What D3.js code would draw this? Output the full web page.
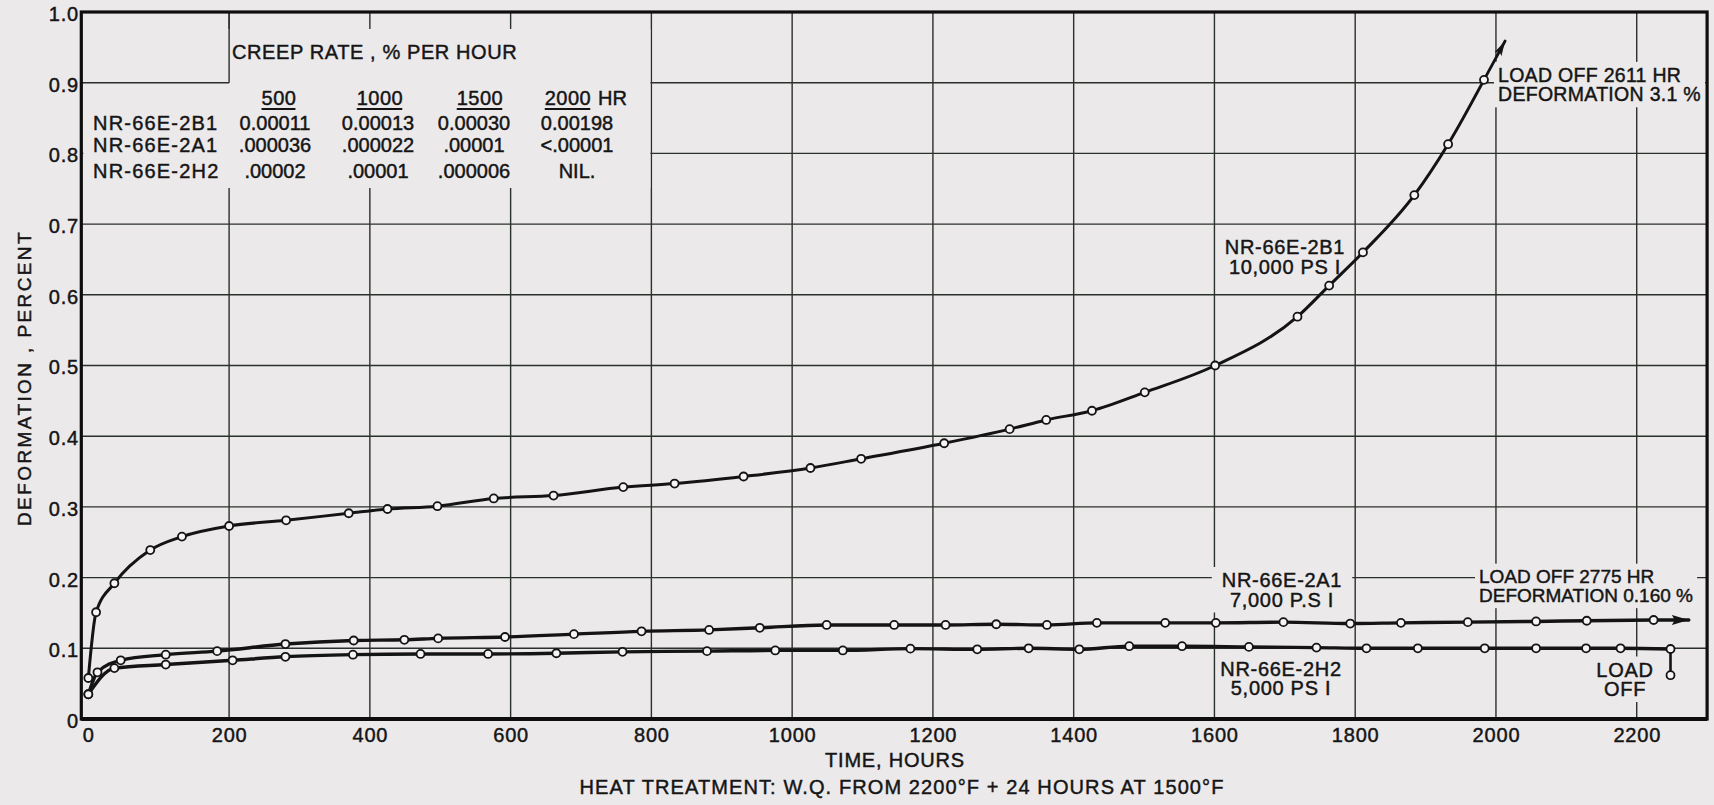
<!DOCTYPE html>
<html>
<head>
<meta charset="utf-8">
<script src="https://cdn.jsdelivr.net/npm/d3@7"></script>
<style>
  html, body { margin: 0; padding: 0; background: #ECE9EB; }
  svg { display: block; }
  text { font-family: "Liberation Sans", Arial, sans-serif; fill: #151515; stroke: #151515; stroke-width: 0.45px; }
</style>
</head>
<body>
<svg id="chart" width="1714" height="805"></svg>
<script>
// ---- Creep curves: deformation (%) vs time (hours) ----
// NR-66E-2B1, 10,000 psi
const hours2B1  = [0, 11, 37, 88, 133, 200, 281, 370, 425, 496, 576, 661, 760, 833, 931, 1026, 1098, 1216, 1309, 1361, 1426, 1501, 1601, 1718, 1763, 1811, 1884, 1932, 1983];
const deform2B1 = [0.058, 0.151, 0.192, 0.239, 0.258, 0.273, 0.281, 0.291, 0.297, 0.301, 0.312, 0.316, 0.328, 0.333, 0.343, 0.355, 0.368, 0.390, 0.410, 0.423, 0.436, 0.462, 0.500, 0.569, 0.613, 0.660, 0.741, 0.813, 0.904];
const trend2B1  = [2013, 0.959];          // curve continues off the chart (load off 2611 hr)

// NR-66E-2A1, 7,000 psi
const hours2A1  = [0, 13, 46, 110, 183, 280, 377, 449, 497, 592, 690, 786, 882, 954, 1049, 1145, 1218, 1290, 1362, 1433, 1530, 1602, 1698, 1793, 1865, 1960, 2057, 2129, 2224];
const deform2A1 = [0.035, 0.066, 0.083, 0.091, 0.096, 0.106, 0.111, 0.112, 0.114, 0.116, 0.120, 0.124, 0.126, 0.129, 0.133, 0.133, 0.133, 0.134, 0.133, 0.136, 0.136, 0.136, 0.137, 0.135, 0.136, 0.137, 0.138, 0.139, 0.140];
const trend2A1  = [2274, 0.140];          // continues to load off at 2775 hr

// NR-66E-2H2, 5,000 psi
const hours2H2  = [0, 37, 110, 205, 280, 376, 472, 568, 665, 759, 879, 976, 1072, 1168, 1263, 1336, 1408, 1479, 1554, 1649, 1745, 1816, 1889, 1984, 2057, 2128, 2177, 2248];
const deform2H2 = [0.035, 0.072, 0.077, 0.083, 0.088, 0.091, 0.092, 0.092, 0.093, 0.095, 0.096, 0.097, 0.097, 0.0995, 0.0986, 0.100, 0.0986, 0.103, 0.103, 0.102, 0.101, 0.100, 0.100, 0.100, 0.100, 0.100, 0.100, 0.099];
const loadOff2H2 = [2248, 0.062];         // recovery after load removed

// Axis ticks
const xTicks = [0, 200, 400, 600, 800, 1000, 1200, 1400, 1600, 1800, 2000, 2200];
const yTicks = [0, 0.1, 0.2, 0.3, 0.4, 0.5, 0.6, 0.7, 0.8, 0.9, 1.0];

// Creep-rate table (% per hour)
const rateHours = ["500", "1000", "1500", "2000"];
const rateSpecimens = ["NR-66E-2B1", "NR-66E-2A1", "NR-66E-2H2"];
const rate2B1 = ["0.00011", "0.00013", "0.00030", "0.00198"];
const rate2A1 = [".000036", ".000022", ".00001", "<.00001"];
const rate2H2 = [".00002", ".00001", ".000006", "NIL."];

// ---- drawing ----
const BG = "#ECE9EB", INK = "#141414", GRID = "#2a302a";
const FONT = '"Liberation Sans", Arial, sans-serif';
const svg = d3.select("#chart");
svg.append("rect").attr("width", 1714).attr("height", 805).attr("fill", BG);

const x = d3.scaleLinear().domain([-10, 2300]).range([81.3, 1707.1]);
const y = d3.scaleLinear().domain([0, 1]).range([719, 12]);

const defs = svg.append("defs");
defs.append("marker").attr("id", "arrowA")
  .attr("viewBox", "0 0 17 10").attr("refX", 17).attr("refY", 5)
  .attr("markerWidth", 17).attr("markerHeight", 10).attr("markerUnits", "userSpaceOnUse")
  .attr("orient", "auto")
  .append("path").attr("d", "M0,0 L17,5 L0,10 L3,5 Z").attr("fill", INK);
defs.append("marker").attr("id", "arrowB")
  .attr("viewBox", "0 0 15 8").attr("refX", 15).attr("refY", 4)
  .attr("markerWidth", 15).attr("markerHeight", 8).attr("markerUnits", "userSpaceOnUse")
  .attr("orient", "auto")
  .append("path").attr("d", "M0,0 L15,4 L0,8 L3,4 Z").attr("fill", INK);

// grid
const grid = svg.append("g").attr("stroke", GRID).attr("stroke-width", 1.4);
grid.selectAll(".vx").data(xTicks.filter(d => d > 0)).join("line")
  .attr("x1", d => x(d)).attr("x2", d => x(d)).attr("y1", y(1)).attr("y2", y(0));
grid.selectAll(".hy").data(yTicks.filter(d => d > 0 && d < 1)).join("line")
  .attr("x1", x(-10)).attr("x2", x(2300)).attr("y1", d => y(d)).attr("y2", d => y(d));

// blank panel for the creep-rate table, with its corner box
svg.append("rect")
  .attr("x", x(-10) + 2).attr("y", y(0.976))
  .attr("width", x(800) - 1 - (x(-10) + 2)).attr("height", y(0.751) - y(0.976))
  .attr("fill", BG);
const box = svg.append("g").attr("stroke", GRID).attr("stroke-width", 1.4);
box.append("line").attr("x1", x(-10)).attr("x2", x(200)).attr("y1", y(0.9)).attr("y2", y(0.9));
box.append("line").attr("x1", x(200)).attr("x2", x(200)).attr("y1", y(1)).attr("y2", y(0.9));

// axes
const xAxis = svg.append("g").attr("transform", "translate(0,728)")
  .call(d3.axisBottom(x).tickValues(xTicks).tickSize(0).tickPadding(0).tickFormat(d3.format("d")));
const yAxis = svg.append("g").attr("transform", "translate(79,2)")
  .call(d3.axisLeft(y).tickValues(yTicks).tickSize(0).tickPadding(0)
    .tickFormat(d => d === 0 ? "0" : d.toFixed(1)));
[xAxis, yAxis].forEach(a => {
  a.select(".domain").remove();
  a.selectAll("text").attr("font-size", 20).attr("fill", INK)
    .style("font-family", FONT).style("letter-spacing", "0.8px");
});

// annotation labels with paper-coloured backing that interrupts the grid
const labelLayer = svg.append("g");
function label(lines, px, py, anchor, pad, size, spacing) {
  const g = labelLayer.append("g");
  const t = g.append("text").attr("font-size", size || 20).attr("text-anchor", anchor || "start")
    .style("letter-spacing", (spacing == null ? 0.7 : spacing) + "px");
  lines.forEach((s, i) => {
    t.append("tspan").attr("x", px).attr("y", py + i * 19.5).attr("dy", "0.35em").text(s);
  });
  const b = t.node().getBBox();
  const p = pad == null ? 4 : pad;
  g.insert("rect", "text").attr("x", b.x - p).attr("y", b.y - 2).attr("width", b.width + 2 * p)
    .attr("height", b.height + 4).attr("fill", BG).attr("stroke", "none");
}
label(["LOAD OFF 2611 HR", "DEFORMATION 3.1 %"], 1498, 75, "start", 4, 19.5, 0.3);
label(["NR-66E-2B1", "10,000 PS I"], 1285, 247, "middle", 0);
label(["NR-66E-2A1", "7,000 P.S I"], 1282, 580, "middle", 10);
label(["LOAD OFF 2775 HR", "DEFORMATION 0.160 %"], 1479, 576, "start", 4, 19, 0);
label(["NR-66E-2H2", "5,000 PS I"], 1281, 668.5, "middle", 2);
label(["LOAD", "OFF"], 1625, 669.5, "middle", 5);

// curves
const line = d3.line().x(d => x(d[0])).y(d => y(d[1])).curve(d3.curveMonotoneX);
const s2B1 = hours2B1.map((h, i) => [h, deform2B1[i]]);
const s2A1 = hours2A1.map((h, i) => [h, deform2A1[i]]);
const s2H2 = hours2H2.map((h, i) => [h, deform2H2[i]]);

const curves = svg.append("g").attr("fill", "none").attr("stroke", INK)
  .attr("stroke-linejoin", "round").attr("stroke-linecap", "round");
curves.append("path").attr("d", line(s2B1)).attr("stroke-width", 3);
curves.append("path").attr("d", line(s2A1)).attr("stroke-width", 3.4);
curves.append("path").attr("d", line(s2H2)).attr("stroke-width", 3.4);

// continuation arrows and load-off drop
const seg = d3.line().x(d => x(d[0])).y(d => y(d[1]));
curves.append("path").attr("d", seg([s2B1[s2B1.length - 1], trend2B1]))
  .attr("stroke-width", 2.8).attr("marker-end", "url(#arrowB)");
curves.append("path").attr("d", seg([s2A1[s2A1.length - 1], trend2A1]))
  .attr("stroke-width", 3.4).attr("marker-end", "url(#arrowA)");
curves.append("path").attr("d", seg([s2H2[s2H2.length - 1], loadOff2H2]))
  .attr("stroke-width", 2.6);

// data points
const pts = svg.append("g").attr("fill", "#f6f4f5").attr("stroke", INK).attr("stroke-width", 1.8);
[s2B1, s2A1, s2H2, [loadOff2H2]].forEach(s => {
  pts.append("g").selectAll("circle").data(s).join("circle")
    .attr("cx", d => x(d[0])).attr("cy", d => y(d[1])).attr("r", 4);
});

// frame
const frame = svg.append("g").attr("stroke", "#0e0e0e").attr("fill", "none");
frame.append("rect").attr("x", x(-10)).attr("y", y(1)).attr("width", x(2300) - x(-10))
  .attr("height", y(0) - y(1)).attr("stroke-width", 3.2);
frame.append("line").attr("x1", x(-10)).attr("x2", x(2300)).attr("y1", y(0)).attr("y2", y(0))
  .attr("stroke-width", 4.2);

// creep-rate table
const tbl = svg.append("g").attr("font-size", 20);
tbl.append("text").attr("x", 232).attr("y", 52).attr("dy", "0.35em")
  .style("letter-spacing", "0.6px").text("CREEP RATE , % PER HOUR");
const colX = [275, 378, 474, 577];
const headX = [279, 380, 480, 568];
const rowY = [123.3, 145, 170.8];
rateHours.forEach((h, i) => {
  const t = tbl.append("text").attr("x", headX[i]).attr("y", 98.3).attr("dy", "0.35em")
    .attr("text-anchor", "middle").style("letter-spacing", "0.5px").text(h);
  const b = t.node().getBBox();
  tbl.append("line").attr("x1", b.x).attr("x2", b.x + b.width - 1)
    .attr("y1", 109).attr("y2", 109).attr("stroke", INK).attr("stroke-width", 2);
});
tbl.append("text").attr("x", 598).attr("y", 98.3).attr("dy", "0.35em").text("HR");
[rate2B1, rate2A1, rate2H2].forEach((row, r) => {
  tbl.append("text").attr("x", 93).attr("y", rowY[r]).attr("dy", "0.35em")
    .style("letter-spacing", "1.2px").text(rateSpecimens[r]);
  row.forEach((v, c) => {
    tbl.append("text").attr("x", colX[c]).attr("y", rowY[r]).attr("dy", "0.35em")
      .attr("text-anchor", "middle").text(v);
  });
});

// axis titles
svg.append("text").attr("x", 895).attr("y", 760).attr("dy", "0.35em").attr("text-anchor", "middle")
  .attr("font-size", 20).style("letter-spacing", "0.8px").text("TIME, HOURS");
svg.append("text").attr("x", 902).attr("y", 787).attr("dy", "0.35em").attr("text-anchor", "middle")
  .attr("font-size", 20).style("letter-spacing", "1.1px")
  .text("HEAT TREATMENT: W.Q. FROM 2200°F + 24 HOURS AT 1500°F");
svg.append("text").attr("transform", "translate(24,378) rotate(-90)").attr("dy", "0.35em")
  .attr("text-anchor", "middle").attr("font-size", 19).style("letter-spacing", "2.4px")
  .text("DEFORMATION ,  PERCENT");
</script>
</body>
</html>
